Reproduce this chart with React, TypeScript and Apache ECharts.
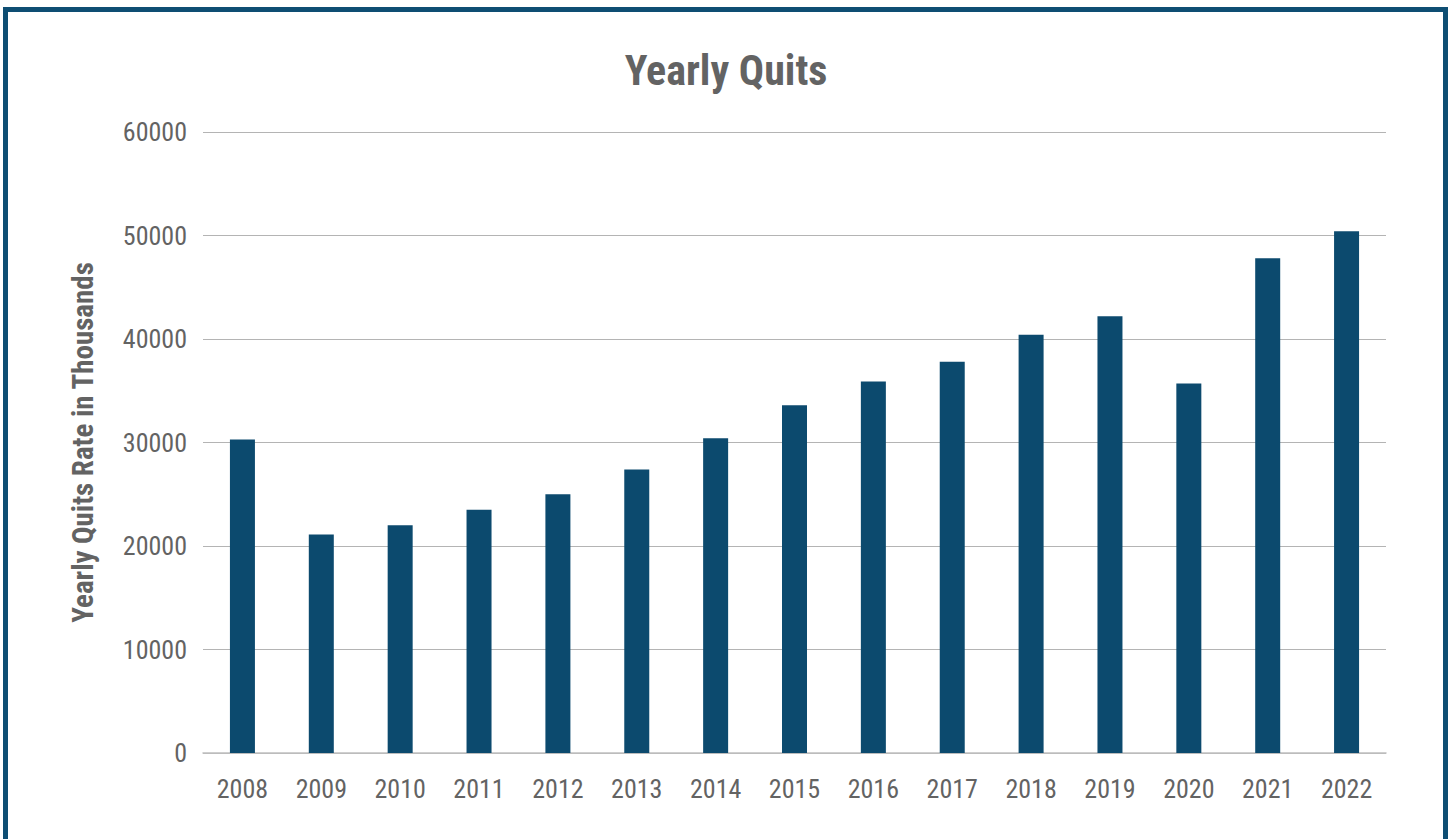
import React, { useEffect, useRef } from "react";
import * as echarts from "echarts";

const years = ["2008", "2009", "2010", "2011", "2012", "2013", "2014", "2015", "2016", "2017", "2018", "2019", "2020", "2021", "2022"];
const quits = [30300, 21100, 22000, 23500, 25000, 27400, 30400, 33600, 35900, 37800, 40400, 42200, 35700, 47800, 50400];

const FONT = "'Roboto Condensed', 'Liberation Sans Narrow', 'DejaVu Sans Condensed', Roboto, sans-serif";

export default function App() {
  const ref = useRef<HTMLDivElement>(null);
  useEffect(() => {
    if (!ref.current) return;
    const chart = echarts.init(ref.current, undefined, { renderer: "svg" });
    chart.setOption({
      animation: false,
      backgroundColor: "transparent",
      title: {
        text: "Yearly Quits",
        left: "center",
        top: 44,
        textStyle: { fontFamily: FONT, fontSize: 42, fontWeight: "bold", color: "#636363" },
      },
      grid: { left: 203, right: 66, top: 132, bottom: 86 },
      xAxis: {
        type: "category",
        data: years,
        axisLine: { show: true, lineStyle: { color: "#bfbfbf", width: 1.5 } },
        axisTick: { show: false },
        axisLabel: { fontFamily: FONT, fontSize: 26, color: "#636363", margin: 23 },
      },
      yAxis: {
        type: "value",
        min: 0,
        max: 60000,
        interval: 10000,
        name: "Yearly Quits Rate in Thousands",
        nameLocation: "middle",
        nameGap: 106,
        nameTextStyle: { fontFamily: FONT, fontSize: 29, fontWeight: "bold", color: "#636363" },
        axisLine: { show: false },
        axisTick: { show: false },
        axisLabel: {
          fontFamily: FONT,
          fontSize: 26,
          color: "#636363",
          margin: 16,
          formatter: (v: number) => String(v),
        },
        splitLine: { lineStyle: { color: "#b4b4b4", width: 1 } },
      },
      series: [
        {
          type: "bar",
          data: quits,
          barWidth: 25,
          itemStyle: { color: "#0c4a6e" },
        },
      ],
    });
    return () => chart.dispose();
  }, []);
  return (
    <>
      <div
        style={{
          position: "fixed",
          left: 3,
          top: 7,
          width: 1435,
          height: 900,
          border: "5px solid #0e4e73",
          boxSizing: "content-box",
          background: "#fff",
        }}
      />
      <div ref={ref} style={{ position: "fixed", left: 0, top: 0, width: 1452, height: 839 }} />
    </>
  );
}
